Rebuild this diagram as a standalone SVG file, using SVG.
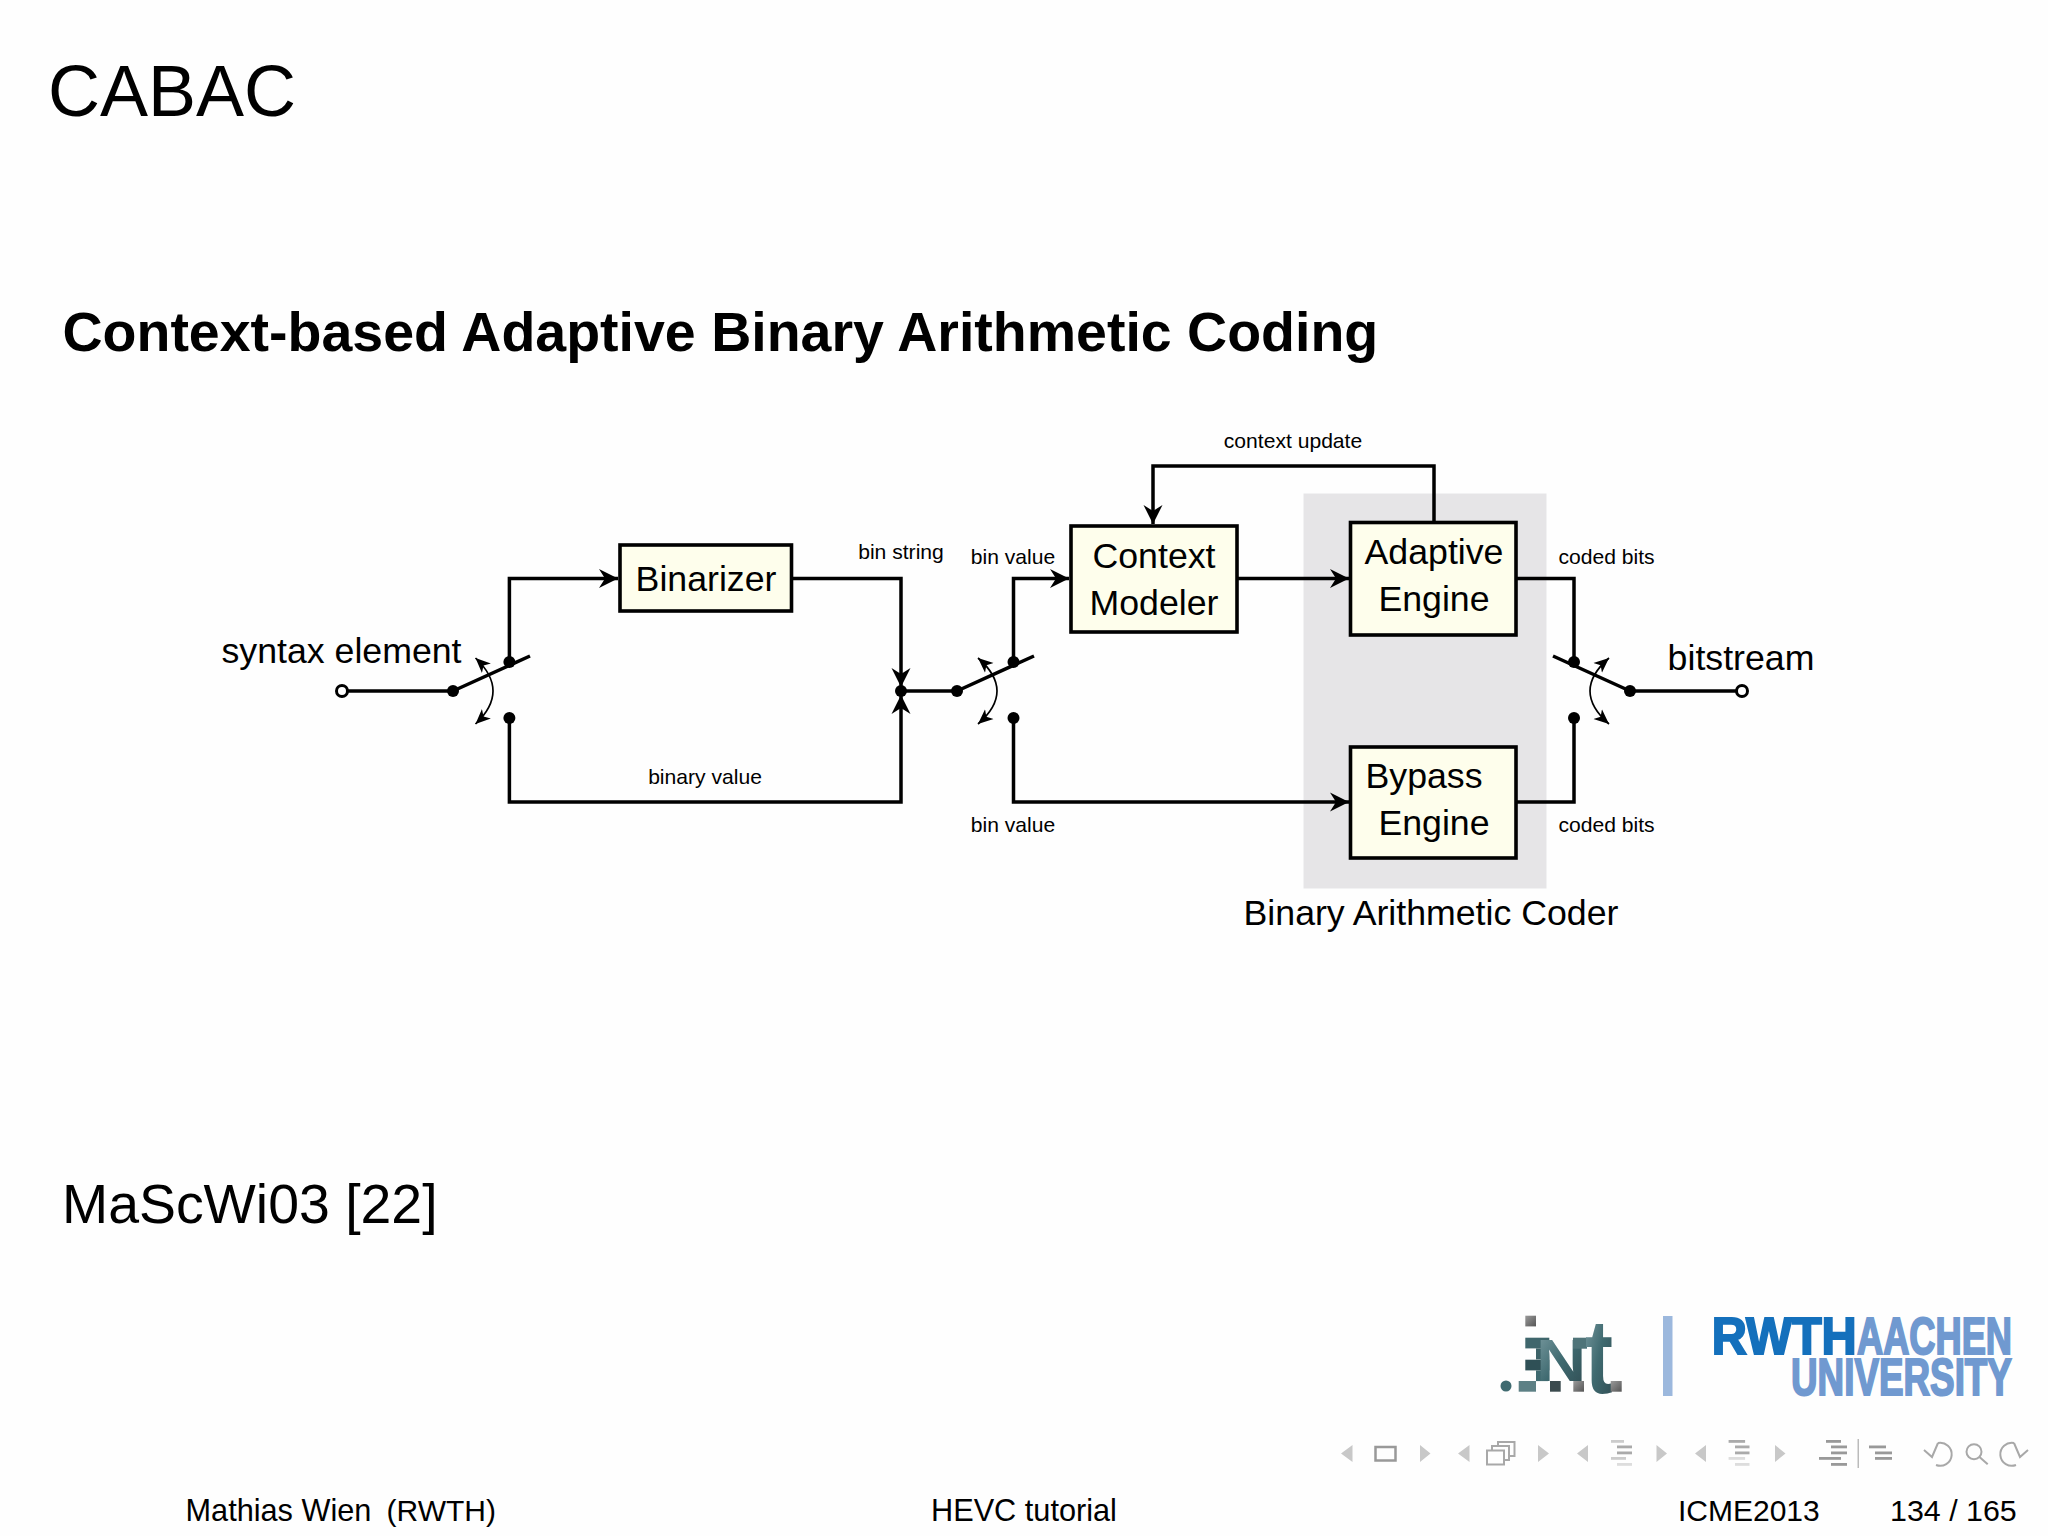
<svg xmlns="http://www.w3.org/2000/svg" width="2048" height="1536" viewBox="0 0 2048 1536">
<style>
text{font-family:"Liberation Sans",Arial,sans-serif;fill:#000}
.b{fill:#fefeec;stroke:#000;stroke-width:3.6}
.t{font-size:35.7px;text-anchor:middle}
.s{font-size:21.1px;text-anchor:middle}
.c{fill:none;stroke:#000;stroke-width:3.5}
.cv{fill:none;stroke:#000;stroke-width:1.7}
.n{fill:#c8c8c8}
.nl{fill:none;stroke:#a8a8a8;stroke-width:2}
.lg{font-weight:700;font-size:51.5px;fill:#7099d0;stroke:#7099d0;stroke-width:2}
</style>
<defs>
<marker id="a" markerUnits="userSpaceOnUse" markerWidth="22" markerHeight="22" refX="19" refY="11" orient="auto"><path d="M0 1.500L19 11L0 20.500L6 11Z" fill="#000"/></marker>
<marker id="sa" markerUnits="userSpaceOnUse" markerWidth="18" markerHeight="18" refX="15" refY="9" orient="auto-start-reverse"><path d="M0 2.500L15 9L0 15.500L4 9Z" fill="#000"/></marker>
<linearGradient id="g" x1="0" y1="0" x2="1" y2="1"><stop offset="0" stop-color="#7f9fa5"/><stop offset=".5" stop-color="#3f6a70"/><stop offset="1" stop-color="#2f4a50"/></linearGradient>
<linearGradient id="q" x1="0" y1="0" x2="1" y2="1"><stop offset="0" stop-color="#9a9a9a"/><stop offset="1" stop-color="#555"/></linearGradient>
</defs>
<rect width="2048" height="1536" fill="#fefefe"/>
<text x="48" y="116" font-size="72">CABAC</text>
<text x="62.500" y="350.500" font-size="55.500" font-weight="700">Context-based Adaptive Binary Arithmetic Coding</text>
<rect id="bac" x="1303.500" y="493.500" width="243" height="395" fill="#e6e5e7"/>
<g id="connectors">
<path class="c" d="M347 691H453"/>
<path class="c" d="M509.400 662V578.600H618" marker-end="url(#a)"/>
<path class="c" d="M509.400 718V802H901V695" marker-end="url(#a)"/>
<path class="c" d="M791 578.600H901V687" marker-end="url(#a)"/>
<path class="c" d="M901 691H957"/>
<path class="c" d="M1013.500 662V578.600H1069" marker-end="url(#a)"/>
<path class="c" d="M1013.500 718V802H1349" marker-end="url(#a)"/>
<path class="c" d="M1237 578.600H1349" marker-end="url(#a)"/>
<path class="c" d="M1434 522V466H1153V524" marker-end="url(#a)"/>
<path class="c" d="M1516 578.600H1574V662M1516 802H1574V718"/>
<path class="c" d="M1630 691H1737"/>
<path class="c" stroke-width="3.800" d="M453 691L530 656M957 691L1034 656M1630 691L1553 656"/>
<path class="cv" d="M475.500 658Q510.500 691 475.500 724" marker-start="url(#sa)" marker-end="url(#sa)"/>
<path class="cv" d="M978 658Q1016 691 978 724" marker-start="url(#sa)" marker-end="url(#sa)"/>
<path class="cv" d="M1609 658Q1571 691 1609 724" marker-start="url(#sa)" marker-end="url(#sa)"/>
<g fill="#000"><circle cx="453" cy="691" r="6"/><circle cx="509.400" cy="662" r="6"/><circle cx="509.400" cy="718" r="6"/><circle cx="901" cy="691" r="6"/><circle cx="957" cy="691" r="6"/><circle cx="1013.500" cy="662" r="6"/><circle cx="1013.500" cy="718" r="6"/><circle cx="1574" cy="662" r="6"/><circle cx="1574" cy="718" r="6"/><circle cx="1630" cy="691" r="6"/></g>
<g fill="#fff" stroke="#000" stroke-width="3"><circle cx="342" cy="691" r="5.500"/><circle cx="1742" cy="691" r="5.500"/></g>
</g>
<g id="binarizer"><rect class="b" x="620" y="545" width="171.500" height="66"/><text class="t" x="706" y="591">Binarizer</text></g>
<g id="context-modeler"><rect class="b" x="1071" y="526" width="166" height="106"/><text class="t" x="1154" y="568">Context</text><text class="t" x="1154" y="614.500">Modeler</text></g>
<g id="adaptive-engine"><rect class="b" x="1350.500" y="522.500" width="165.500" height="112.500"/><text class="t" x="1434" y="564">Adaptive</text><text class="t" x="1434" y="611">Engine</text></g>
<g id="bypass-engine"><rect class="b" x="1350.500" y="747" width="165.500" height="111"/><text class="t" x="1424" y="788">Bypass</text><text class="t" x="1434" y="835">Engine</text></g>
<text class="t" x="341.500" y="662.500">syntax element</text>
<text class="t" x="1741" y="670">bitstream</text>
<text class="t" x="1431" y="925">Binary Arithmetic Coder</text>
<text class="s" x="1293" y="448">context update</text>
<text class="s" x="901" y="559">bin string</text>
<text class="s" x="1013" y="564">bin value</text>
<text class="s" x="1013" y="832">bin value</text>
<text class="s" x="1606.500" y="564">coded bits</text>
<text class="s" x="1606.500" y="832">coded bits</text>
<text class="s" x="705" y="784">binary value</text>
<text x="62" y="1222.500" font-size="55.400">MaScWi03 [22]</text>
<g id="logo-int">
<circle cx="1506" cy="1386" r="5.500" fill="#3f6a70"/>
<rect x="1525.300" y="1315.700" width="10.700" height="10.700" fill="url(#q)"/>
<rect x="1518.700" y="1381" width="17.300" height="10.700" fill="#5d8085"/>
<rect x="1525.300" y="1337.700" width="24" height="10.700" fill="#3f666c"/>
<rect x="1536" y="1348.400" width="13" height="11" fill="#3c6268"/>
<rect x="1525.300" y="1359.700" width="24" height="10.700" fill="#2f5056"/>
<rect x="1536" y="1370.400" width="12" height="10.700" fill="#3f6a70"/>
<rect x="1550" y="1381" width="10.700" height="10.700" fill="#3b4a4e"/>
<text transform="translate(1536 1381) scale(1.160 1)" font-size="60" font-weight="700" style="fill:url(#g)">N</text>
<rect x="1573.300" y="1381" width="10.700" height="10.700" fill="url(#q)"/>
<rect x="1573" y="1337.700" width="14" height="11" fill="#4f7479"/>
<text transform="translate(1585 1393) scale(.8 1)" font-size="105" font-weight="700" style="fill:url(#g)">t</text>
<rect x="1610.700" y="1381" width="11" height="10.700" fill="url(#q)"/>
</g>
<rect x="1663" y="1316" width="9.500" height="80" fill="#9cb8dd"/>
<g id="logo-rwth">
<text transform="translate(1711.700 1353.500) scale(.945 1)" class="lg" style="fill:#1470bc;stroke:#1470bc">RWTH</text>
<text transform="translate(1857 1353.500) scale(.704 1)" class="lg">AACHEN</text>
<text transform="translate(1791 1395) scale(.715 1)" class="lg">UNIVERSITY</text>
</g>
<g id="nav">
<path class="n" d="M1341 1453.500l11.500-8.500v17zM1420 1445l10.500 8.500-10.500 8.500zM1458 1453.500l11.500-8.500v17zM1538 1445l11 8.500-11 8.500zM1577 1453.500l11-8.500v17zM1656.500 1445l10.500 8.500-10.500 8.500zM1695 1453.500l11-8.500v17zM1775 1445l10.500 8.500-10.500 8.500z"/>
<rect x="1375.500" y="1447" width="20" height="13.500" fill="none" stroke="#999" stroke-width="2.500"/>
<path class="nl" d="M1487 1450.500h17v14h-17zM1492 1450.500v-4.500h17v14h-5M1498 1446v-4h16.500v14h-5.500"/>
<g fill="#ccc"><rect x="1611" y="1440" width="13" height="2.800"/><rect x="1611" y="1457" width="15" height="2.800"/></g>
<g fill="#aaa"><rect x="1617" y="1445.500" width="15" height="2.800"/><rect x="1617" y="1451.500" width="15" height="2.800"/></g>
<rect x="1617" y="1463" width="15" height="2.800" fill="#ddd"/>
<g fill="#aaa"><rect x="1728.600" y="1440" width="16.500" height="2.800"/><rect x="1735" y="1445.500" width="14.500" height="2.800"/><rect x="1735" y="1451.500" width="14.500" height="2.800"/></g>
<g fill="#ddd"><rect x="1728.600" y="1457" width="16.500" height="2.800"/><rect x="1735" y="1463" width="14.500" height="2.800"/></g>
<g fill="#999"><rect x="1826" y="1440" width="15" height="2.800"/><rect x="1831" y="1445.500" width="16" height="2.800"/><rect x="1831" y="1451.500" width="16" height="2.800"/><rect x="1819" y="1457" width="22" height="2.800"/><rect x="1831" y="1463" width="16" height="2.800"/>
<rect x="1869" y="1445.500" width="17" height="2.800"/><rect x="1875" y="1451.500" width="17" height="2.800"/><rect x="1875" y="1457" width="17" height="2.800"/></g>
<rect x="1857.500" y="1439" width="1.500" height="29" fill="#bbb"/>
<path class="nl" d="M1938 1443A11.500 11.500 0 1 1 1936 1465M1924 1450L1932 1457L1938 1443"/>
<circle class="nl" cx="1974" cy="1451.700" r="7.500" stroke-width="2.500"/><path class="nl" stroke-width="3" d="M1979.500 1457L1987.700 1464.300"/>
<path class="nl" d="M2014 1443A11.500 11.500 0 1 0 2016 1465M2028 1450L2020 1457L2014 1443"/>
</g>
<text x="185.500" y="1520.500" font-size="30.700">Mathias Wien</text>
<text x="386.600" y="1520.500" font-size="30">(RWTH)</text>
<text x="931" y="1520.500" font-size="30.700">HEVC tutorial</text>
<text x="1678" y="1520.500" font-size="30">ICME2013</text>
<text x="1890" y="1520.500" font-size="30.400">134 / 165</text>
</svg>
